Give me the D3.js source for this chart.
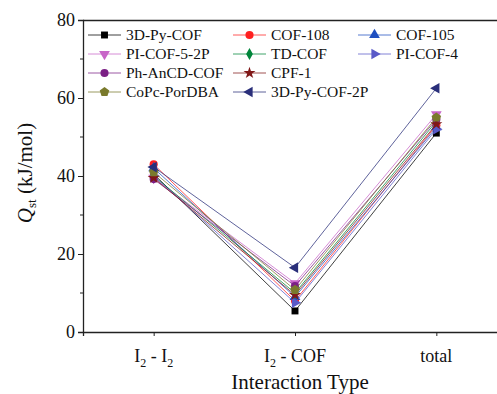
<!DOCTYPE html>
<html>
<head>
<meta charset="utf-8">
<script src="https://cdn.jsdelivr.net/npm/d3@7"></script>
<style>
  body { margin: 0; background: #fff; }
  svg { display: block; }
  svg text { font-family: "Liberation Serif", "Times New Roman", Tinos, "DejaVu Serif", serif; }
</style>
</head>
<body>
<svg id="chart" width="497" height="394"></svg>
<script>
// categories on the x axis
const categories = ["I2-I2", "I2-COF", "total"];

// one row per framework: [I2-I2, I2-COF, total] in kJ/mol
const seriesNames = [
  "3D-Py-COF", "COF-108", "COF-105", "PI-COF-5-2P", "TD-COF",
  "PI-COF-4", "Ph-AnCD-COF", "CPF-1", "CoPc-PorDBA", "3D-Py-COF-2P"
];
const qst3DPyCOF     = [40.5, 5.4, 51.0];
const qstCOF108      = [43.0, 8.0, 53.0];
const qstCOF105      = [42.0, 9.0, 52.5];
const qstPICOF52P    = [39.5, 12.5, 55.8];
const qstTDCOF       = [40.0, 10.0, 54.0];
const qstPICOF4      = [40.0, 7.5, 52.0];
const qstPhAnCDCOF   = [39.2, 11.8, 54.5];
const qstCPF1        = [39.5, 9.5, 53.3];
const qstCoPcPorDBA  = [41.0, 10.8, 55.0];
const qst3DPyCOF2P   = [42.3, 16.5, 62.5];
const seriesValues = [
  qst3DPyCOF, qstCOF108, qstCOF105, qstPICOF52P, qstTDCOF,
  qstPICOF4, qstPhAnCDCOF, qstCPF1, qstCoPcPorDBA, qst3DPyCOF2P
];

const yTicks = [0, 20, 40, 60, 80];

// styling, kept apart from the data
const colors = ["#000000", "#ff2020", "#1f4fc0", "#c865c8", "#00853a",
                "#5a5ac8", "#7b2085", "#801818", "#7a7a2c", "#2a2f7a"];

const pentagon = {
  draw(ctx, size) {
    const r = Math.sqrt(size / 2.378);
    for (let i = 0; i < 5; i++) {
      const a = -Math.PI / 2 + i * 2 * Math.PI / 5;
      const px = r * Math.cos(a), py = r * Math.sin(a);
      if (i === 0) ctx.moveTo(px, py); else ctx.lineTo(px, py);
    }
    ctx.closePath();
  }
};
const shapes = [
  { t: d3.symbolSquare, rot: 0, size: 48 },
  { t: d3.symbolCircle, rot: 0, size: 52 },
  { t: d3.symbolTriangle, rot: 0, size: 50 },
  { t: d3.symbolTriangle, rot: 180, size: 50 },
  { t: d3.symbolDiamond, rot: 0, size: 40 },
  { t: d3.symbolTriangle, rot: 90, size: 50 },
  { t: d3.symbolCircle, rot: 0, size: 52 },
  { t: d3.symbolStar, rot: 0, size: 45 },
  { t: pentagon, rot: 0, size: 60 },
  { t: d3.symbolTriangle, rot: -90, size: 50 }
];

const svg = d3.select("#chart");
const mLeft = 83, mTop = 20, mBottom = 332, mRight = 507;

const x = d3.scalePoint().domain(categories).range([mLeft, mRight]).padding(0.5);
const y = d3.scaleLinear().domain([0, 80]).range([mBottom, mTop]);

// frame (top line; right side falls outside the window)
svg.append("line")
  .attr("x1", mLeft).attr("x2", mRight)
  .attr("y1", mTop + 0.5).attr("y2", mTop + 0.5)
  .attr("stroke", "#222").attr("stroke-width", 1.3);

// y axis
const yAxis = svg.append("g")
  .attr("transform", `translate(${mLeft},0)`)
  .call(d3.axisLeft(y).tickValues(yTicks).tickSize(5).tickPadding(3));
yAxis.append("g").selectAll("line")
  .data([10, 30, 50, 70]).enter().append("line")
  .attr("x1", 0).attr("x2", -3)
  .attr("y1", d => y(d)).attr("y2", d => y(d))
  .attr("stroke", "#222");

// x axis
const xAxis = svg.append("g")
  .attr("transform", `translate(0,${mBottom})`)
  .call(d3.axisBottom(x).tickSize(4).tickFormat(""));

[yAxis, xAxis].forEach(a => {
  a.attr("font-family", null);
  a.select(".domain").attr("stroke", "#222").attr("stroke-width", 1.3);
  a.selectAll(".tick line").attr("stroke", "#222");
  a.selectAll("text").attr("font-size", 18).attr("fill", "#111");
});

// x tick labels with subscripts
const xLabels = [
  [["I", 0], ["2", 1], [" - I", 0], ["2", 1]],
  [["I", 0], ["2", 1], [" - COF", 0]],
  [["total", 0]]
];
categories.forEach((c, i) => {
  const t = svg.append("text")
    .attr("x", x(c)).attr("y", 362)
    .attr("text-anchor", "middle")
    .attr("font-size", 18).attr("fill", "#111");
  xLabels[i].forEach(([s, sub], k) => {
    t.append("tspan")
      .attr("font-size", sub ? 12 : 18)
      .attr("dy", k === 0 ? 0 : (sub ? 5 : -5))
      .text(s);
  });
});

// axis titles
svg.append("text")
  .attr("x", 300).attr("y", 389)
  .attr("text-anchor", "middle")
  .attr("font-size", 21).attr("fill", "#111")
  .text("Interaction Type");

const yt = svg.append("text")
  .attr("transform", "translate(32,173) rotate(-90)")
  .attr("text-anchor", "middle")
  .attr("font-size", 21).attr("fill", "#111");
yt.append("tspan").attr("font-style", "italic").text("Q");
yt.append("tspan").attr("font-size", 13).attr("dy", 4).text("st");
yt.append("tspan").attr("dy", -4).text(" (kJ/mol)");

// series
const line = d3.line().x((d, i) => x(categories[i])).y(d => y(d));
seriesNames.forEach((name, si) => {
  const g = svg.append("g");
  g.append("path")
    .attr("d", line(seriesValues[si]))
    .attr("fill", "none")
    .attr("stroke", colors[si])
    .attr("stroke-opacity", 0.75)
    .attr("stroke-width", 1);
  const sh = shapes[si];
  const sym = d3.symbol().type(sh.t).size(sh.size);
  g.selectAll("path.pt")
    .data(seriesValues[si]).enter().append("path")
    .attr("class", "pt")
    .attr("d", sym)
    .attr("transform", (d, i) => `translate(${x(categories[i])},${y(d)}) rotate(${sh.rot})`)
    .attr("fill", colors[si]);
});

// legend
const legCols = [88, 233, 358];
const legRows = [35, 54, 73, 92];
const legOrder = [[0, 0], [0, 1], [0, 2], [1, 0], [1, 1], [1, 2], [2, 0], [2, 1], [3, 0], [3, 1]];
seriesNames.forEach((name, si) => {
  const [r, c] = legOrder[si];
  const lx = legCols[c], ly = legRows[r];
  const g = svg.append("g").attr("transform", `translate(${lx},${ly})`);
  g.append("line")
    .attr("x1", 0).attr("x2", 33)
    .attr("stroke", colors[si]).attr("stroke-opacity", 0.75);
  const sh = shapes[si];
  g.append("path")
    .attr("d", d3.symbol().type(sh.t).size(sh.size)())
    .attr("transform", `translate(16.5,0) rotate(${sh.rot})`)
    .attr("fill", colors[si]);
  g.append("text")
    .attr("x", 38).attr("y", 5)
    .attr("font-size", 15.5).attr("fill", "#111")
    .text(name);
});
</script>
</body>
</html>
